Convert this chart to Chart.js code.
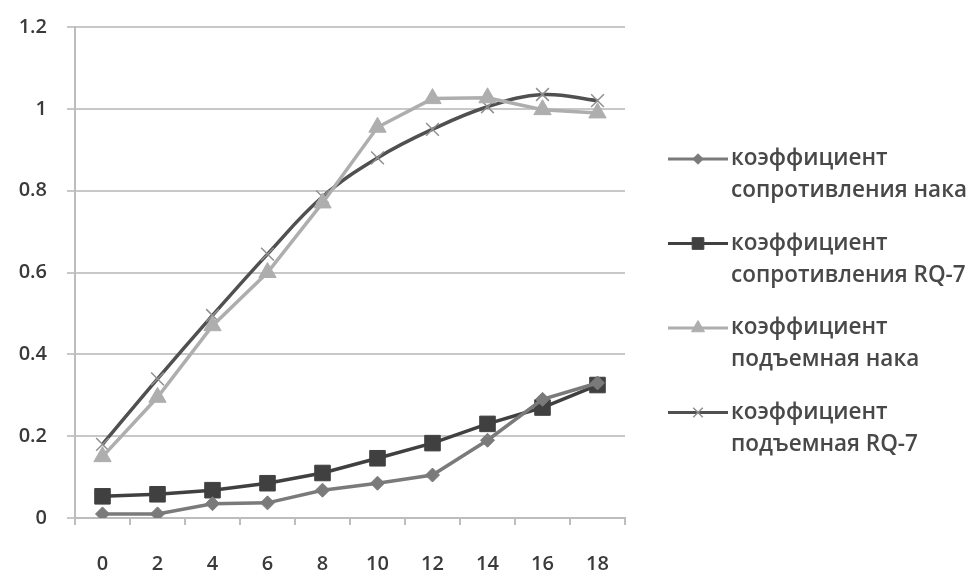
<!DOCTYPE html>
<html>
<head>
<meta charset="utf-8">
<script src="https://cdn.jsdelivr.net/npm/chart.js@4.4.0/dist/chart.umd.min.js"></script>
<style>
  html, body { margin: 0; padding: 0; background: #fff; }
  #wrap { width: 980px; height: 574px; }
</style>
</head>
<body>
<div id="wrap"><canvas id="chart" width="980" height="574"></canvas></div>
<script>
// angles (x axis)
const categories = ['0', '2', '4', '6', '8', '10', '12', '14', '16', '18'];

const dragNaka  = [0.01, 0.01, 0.035, 0.037, 0.068, 0.085, 0.105, 0.19, 0.29, 0.33];
const dragRQ7   = [0.053, 0.058, 0.068, 0.085, 0.11, 0.146, 0.183, 0.23, 0.27, 0.325];
const liftNaka  = [0.15, 0.295, 0.47, 0.6, 0.77, 0.955, 1.025, 1.027, 0.998, 0.99];
const liftRQ7   = [0.18, 0.34, 0.495, 0.645, 0.785, 0.88, 0.95, 1.005, 1.035, 1.02];

const legendLines = [
  ['коэффициент', 'сопротивления нака'],
  ['коэффициент', 'сопротивления RQ-7'],
  ['коэффициент', 'подъемная нака'],
  ['коэффициент', 'подъемная RQ-7']
];

const FONT = '"Open Sans", "Noto Sans", sans-serif';

// legend drawn on the canvas, two text lines per entry
const sideLegend = {
  id: 'sideLegend',
  afterDraw(chart) {
    const ctx = chart.ctx;
    ctx.save();
    chart.data.datasets.forEach((ds, i) => {
      const y = 159 + i * 84.5;
      ctx.strokeStyle = ds.borderColor;
      ctx.lineWidth = 3;
      ctx.beginPath();
      ctx.moveTo(668, y);
      ctx.lineTo(728, y);
      ctx.stroke();
      ctx.fillStyle = ds.pointBackgroundColor;
      ctx.strokeStyle = ds.pointBorderColor;
      ctx.lineWidth = ds.pointBorderWidth;
      Chart.helpers.drawPoint(ctx, {
        pointStyle: ds.pointStyle,
        radius: ds.pointRadius * 0.75,
        borderWidth: ds.pointBorderWidth
      }, 698, y);
      ctx.fillStyle = '#484848';
      ctx.font = '600 22.5px ' + FONT;
      ctx.textBaseline = 'middle';
      ctx.fillText(legendLines[i][0], 731, y);
      ctx.fillText(legendLines[i][1], 731, y + 32);
    });
    ctx.restore();
  }
};

function series(data, color, style, radius, extra) {
  return Object.assign({
    label: '',
    data: data,
    borderColor: color,
    backgroundColor: color,
    pointBackgroundColor: color,
    pointBorderColor: color,
    borderWidth: 3.5,
    pointStyle: style,
    pointRadius: radius,
    pointBorderWidth: 1,
    tension: 0
  }, extra || {});
}

new Chart(document.getElementById('chart'), {
  type: 'line',
  data: {
    labels: categories,
    datasets: [
      series(dragNaka, '#7a7a7a', 'rectRot', 7),
      series(dragRQ7, '#404040', 'rect', 11),
      series(liftNaka, '#aeaeae', 'triangle', 10),
      series(liftRQ7, '#505050', 'crossRot', 9, {
        tension: 0.4,
        pointBorderColor: '#909090',
        pointBorderWidth: 1.5
      })
    ]
  },
  options: {
    responsive: false,
    animation: false,
    layout: { padding: { left: 0, right: 355, top: 27, bottom: 0 } },
    plugins: {
      legend: { display: false },
      tooltip: { enabled: false }
    },
    scales: {
      x: {
        offset: true,
        grid: {
          offset: true,
          drawOnChartArea: false,
          drawTicks: true,
          tickLength: 7,
          color: '#bdbdbd',
          lineWidth: 2
        },
        border: { color: '#bdbdbd', width: 2 },
        ticks: { color: '#3a3a3a', font: { family: FONT, size: 20, weight: '600' }, padding: 27 },
        afterFit(scale) { scale.height = 56; }
      },
      y: {
        min: 0,
        max: 1.2,
        ticks: {
          stepSize: 0.2,
          color: '#3a3a3a',
          font: { family: FONT, size: 20, weight: '600' },
          padding: 20,
          callback: (v) => String(Number(v.toFixed(1)))
        },
        grid: { color: '#c8c8c8', lineWidth: 2, tickLength: 8 },
        border: { color: '#bdbdbd', width: 2 },
        afterFit(scale) {
          scale.width = 75;
          scale.paddingTop = 0;
          scale.paddingBottom = 0;
        }
      }
    }
  },
  plugins: [sideLegend]
});
</script>
</body>
</html>
